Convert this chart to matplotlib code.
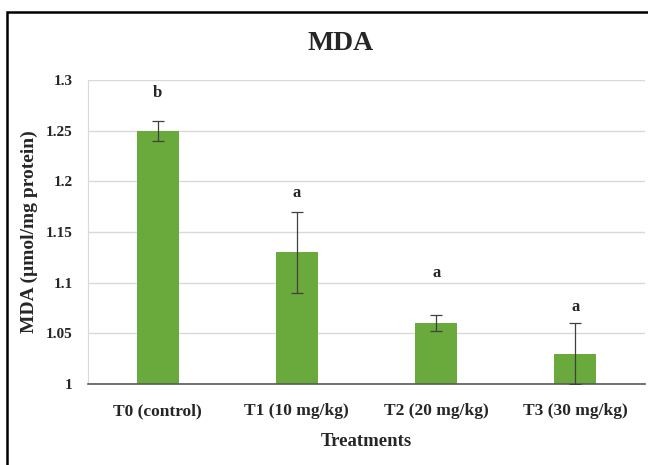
import matplotlib
matplotlib.use("Agg")
import matplotlib.pyplot as plt
from matplotlib.patches import Rectangle
import numpy as np

categories = ["T0 (control)", "T1 (10 mg/kg)", "T2 (20 mg/kg)", "T3 (30 mg/kg)"]
values = [1.25, 1.13, 1.06, 1.03]
errors = [0.01, 0.04, 0.008, 0.03]
letters = ["b", "a", "a", "a"]
letter_y = [1.287, 1.188, 1.110, 1.076]
yticks = [1, 1.05, 1.1, 1.15, 1.2, 1.25, 1.3]
ytick_labels = ["1", "1.05", "1.1", "1.15", "1.2", "1.25", "1.3"]

plt.rcParams["font.family"] = ["Liberation Serif", "DejaVu Serif"]
plt.rcParams["font.weight"] = "bold"

W, H = 648, 465
fig = plt.figure(figsize=(W / 100, H / 100), dpi=100)
ax = fig.add_axes([88 / W, 1 - 384 / H, (645 - 88) / W, (384 - 80) / H])

x = np.arange(len(categories))
ax.bar(x, values, width=0.3, color="#6aaa3c", zorder=2)
ax.errorbar(x, values, yerr=errors, fmt="none", ecolor="#404040",
            elinewidth=0.9, capsize=4, capthick=0.9, zorder=3)
for xi, lt, ly in zip(x, letters, letter_y):
    ax.text(xi, ly, lt, ha="center", va="center", fontsize=12,
            fontweight="bold", color="#262626")

ax.set_xlim(-0.5, 3.5)
ax.set_ylim(1.0, 1.3)
ax.set_yticks(yticks)
ax.set_yticklabels(ytick_labels, fontsize=11, fontweight="bold")
ax.set_xticks(x)
ax.set_xticklabels(categories, fontsize=12.5, fontweight="bold")
ax.tick_params(axis="x", length=0, pad=14, colors="#262626")
ax.tick_params(axis="y", length=0, pad=11, colors="#262626")
ax.grid(axis="y", color="#d9d9d9", linewidth=1, zorder=0)
ax.set_axisbelow(True)
for s in ["top", "right"]:
    ax.spines[s].set_visible(False)
ax.spines["left"].set_color("#d9d9d9")
ax.spines["bottom"].set_color("#595959")
ax.spines["bottom"].set_linewidth(1.2)

ax.set_xlabel("Treatments", fontsize=13.5, fontweight="bold", color="#262626", labelpad=10)
ax.set_ylabel("MDA (µmol/mg protein)", fontsize=14, fontweight="bold", color="#262626", labelpad=6)
fig.text(341 / W, 1 - 43 / H, "MDA", ha="center", va="center", fontsize=20,
         fontweight="bold", color="#262626")

fig.patches.append(Rectangle((7 / W, -0.1), 1.2, 1 - 12 / H + 0.1, transform=fig.transFigure,
                             fill=False, edgecolor="black", linewidth=1.8))

fig.savefig("out.png", dpi=100)
